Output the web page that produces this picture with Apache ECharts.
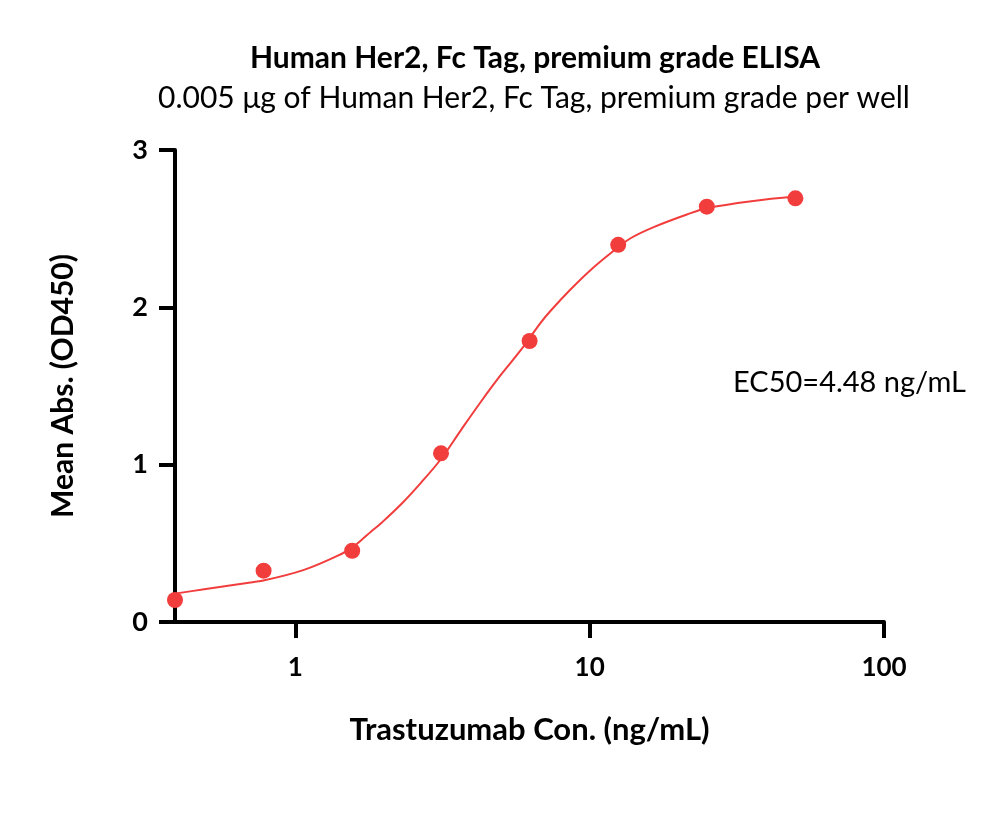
<!DOCTYPE html>
<html>
<head>
<meta charset="utf-8">
<script src="https://cdn.jsdelivr.net/npm/echarts@6/dist/echarts.min.js"></script>
<style>html,body{margin:0;padding:0;background:#fff}#c{width:1000px;height:823px}</style>
</head>
<body>
<div id="c"></div>
<script>
var titleText = 'Human Her2, Fc Tag, premium grade ELISA';
var subtitleText = '0.005 μg of Human Her2, Fc Tag, premium grade per well';
var xAxisName = 'Trastuzumab Con. (ng/mL)';
var yAxisName = 'Mean Abs. (OD450)';
var ec50Text = 'EC50=4.48 ng/mL';

var concentrations = [0.39, 0.78, 1.56, 3.125, 6.25, 12.5, 25, 50];
var meanAbs = [0.14, 0.326, 0.453, 1.072, 1.786, 2.397, 2.64, 2.693];

var curveX = [0.395, 0.49, 0.64, 0.785, 1.07, 1.40, 1.57, 1.674, 1.81, 1.956, 2.287, 2.674, 3.125, 3.653, 4.27, 4.99, 5.84, 6.82, 7.38, 8.62, 10.08, 11.78, 13.77, 16.5, 21.4, 25, 36, 50];
var curveY = [0.182, 0.208, 0.240, 0.265, 0.331, 0.423, 0.478, 0.52, 0.575, 0.628, 0.748, 0.886, 1.036, 1.22, 1.40, 1.57, 1.729, 1.903, 1.98, 2.115, 2.238, 2.344, 2.439, 2.51, 2.59, 2.63, 2.676, 2.704];

var red = '#F23D3D';
var font = 'Lato, "Liberation Sans", sans-serif';

var chart = echarts.init(document.getElementById('c'), null, {renderer: 'canvas'});
chart.setOption({
  backgroundColor: '#fff',
  animation: false,
  title: [
    {text: titleText, left: 530, top: 38, textAlign: 'center',
     textStyle: {fontFamily: font, fontSize: 30, fontWeight: 'bold', color: '#000'}},
    {text: subtitleText, left: 529, top: 78, textAlign: 'center',
     textStyle: {fontFamily: font, fontSize: 30, fontWeight: 'normal', color: '#000'}}
  ],
  grid: {left: 175, right: 116, top: 150, bottom: 201, containLabel: false},
  xAxis: {
    type: 'log', logBase: 10, min: 0.39, max: 100,
    name: xAxisName, nameLocation: 'middle', nameGap: 92,
    nameTextStyle: {fontFamily: font, fontSize: 31, fontWeight: 'bold', color: '#000'},
    axisLine: {show: true, onZero: false, lineStyle: {color: '#000', width: 4}},
    axisTick: {show: true, length: 16, lineStyle: {color: '#000', width: 4}},
    minorTick: {show: false},
    splitLine: {show: false},
    axisLabel: {showMinLabel: false, margin: 33, fontFamily: font, fontSize: 26, fontWeight: 'bold', color: '#000'}
  },
  yAxis: {
    type: 'value', min: 0, max: 3, interval: 1,
    name: yAxisName, nameLocation: 'middle', nameGap: 97,
    nameTextStyle: {fontFamily: font, fontSize: 30, fontWeight: 'bold', color: '#000'},
    axisLine: {show: true, lineStyle: {color: '#000', width: 4}},
    axisTick: {show: true, length: 16, lineStyle: {color: '#000', width: 4}},
    splitLine: {show: false},
    axisLabel: {margin: 27, fontFamily: font, fontSize: 27, fontWeight: 'bold', color: '#000'}
  },
  graphic: [
    {type: 'text', left: 733, top: 368,
     style: {text: ec50Text, fontFamily: font, fontSize: 29, fill: '#000'}}
  ],
  series: [
    {
      type: 'line', name: 'fit', smooth: 0.35, showSymbol: false, symbol: 'none',
      data: curveX.map(function (x, i) { return [x, curveY[i]]; }),
      lineStyle: {color: red, width: 2}, z: 2
    },
    {
      type: 'scatter', name: 'data', symbolSize: 16,
      data: concentrations.map(function (x, i) { return [x, meanAbs[i]]; }),
      itemStyle: {color: red, opacity: 1}, z: 3
    }
  ]
});
</script>
</body>
</html>
